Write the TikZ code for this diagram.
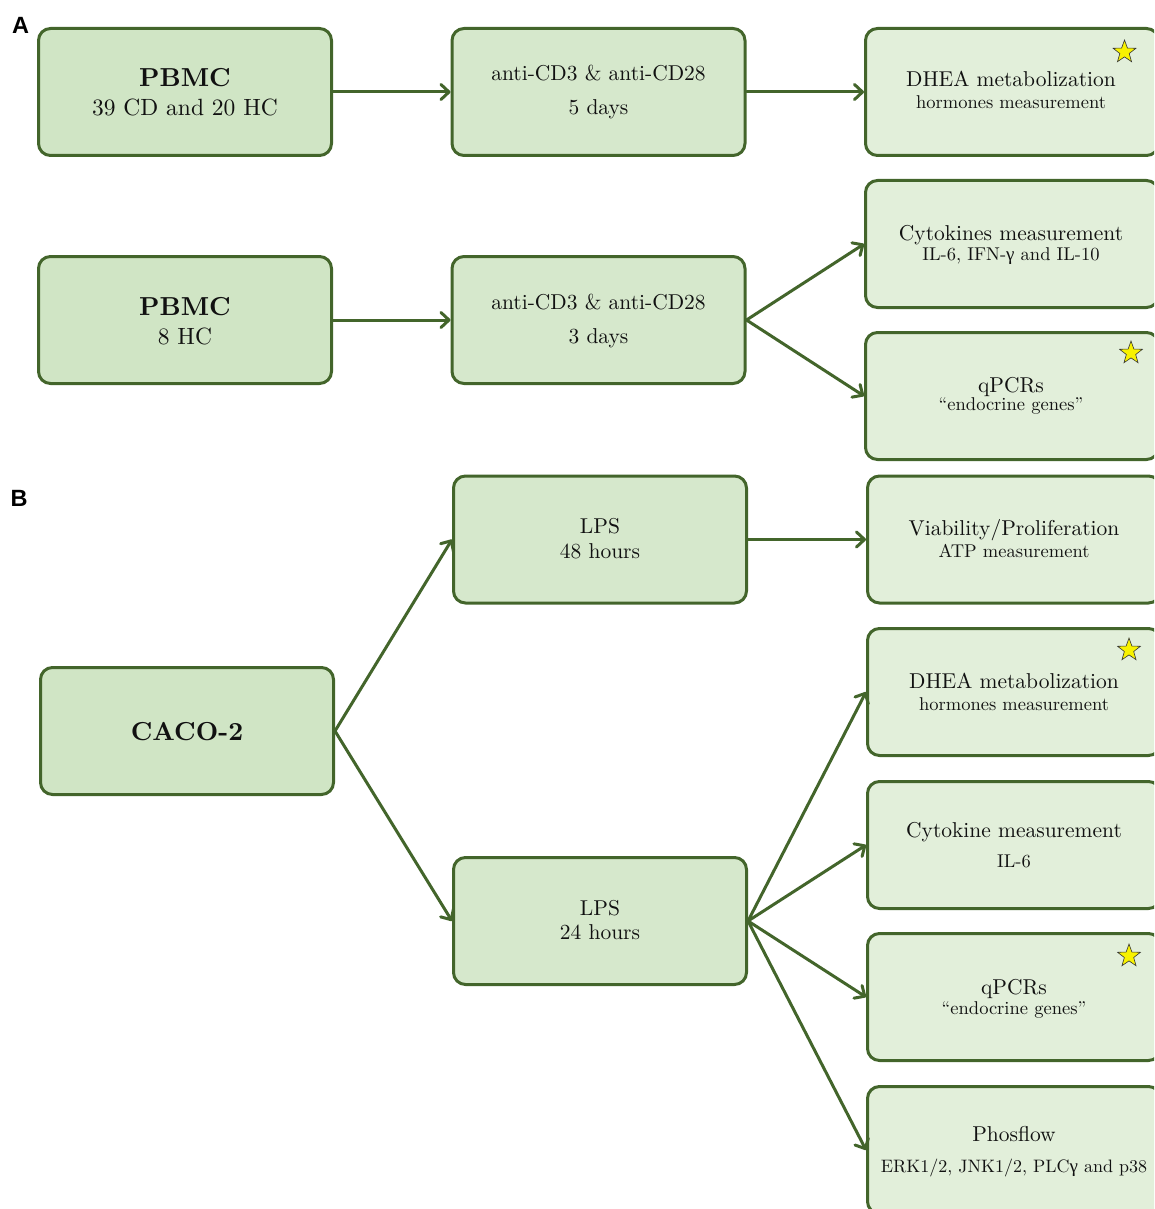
\documentclass[tikz,border=0pt]{standalone}
\usepackage{fontspec}
\setmainfont{lmroman10}[Extension=.otf, UprightFont=*-regular,
  BoldFont=*-bold, ItalicFont=*-italic, BoldItalicFont=*-bolditalic]
\newfontfamily\panelfont{Liberation Sans}
\newfontfamily\greekfont{Liberation Serif}
\usetikzlibrary{arrows.meta,shapes.geometric}

\definecolor{edge}{HTML}{43652B}
\definecolor{srcfill}{HTML}{D0E5C5}
\definecolor{midfill}{HTML}{D6E8CC}
\definecolor{outfill}{HTML}{E2EFDA}
\definecolor{ink}{HTML}{111111}
\definecolor{starfill}{HTML}{F8F200}

\newcommand\mainsz{\fontsize{21.5}{24}\selectfont}
\newcommand\srcsz{\fontsize{23.5}{26}\selectfont}
\newcommand\subsz{\fontsize{18.5}{21}\selectfont}
\newcommand\smallsz{\fontsize{18}{21}\selectfont}
\newcommand\bigsz{\fontsize{26}{30}\selectfont\bfseries}
\newcommand\gam{{\greekfont\fontsize{19}{21}\selectfont γ}}

\tikzset{
  box/.style={draw=edge, line width=3pt, rounded corners=12pt,
    minimum width=293pt, minimum height=127pt, inner sep=0pt},
  srcbox/.style={box, fill=srcfill},
  midbox/.style={box, fill=midfill},
  outbox/.style={box, fill=outfill},
  txt/.style={anchor=base, inner sep=0pt, text=ink},
  panel/.style={anchor=base, inner sep=0pt, text=black,
    font=\panelfont\fontsize{23.5}{26}\selectfont\bfseries},
  goldstar/.style={star, star points=5, star point ratio=2.45,
    minimum size=24pt, inner sep=0pt, fill=starfill, draw=black!80,
    line width=0.6pt},
  flow/.style={draw=edge, line width=3pt, line cap=round,
    -{Straight Barb[length=8pt,width=15pt,round]}},
}

\begin{document}
\begin{tikzpicture}[x=1pt, y=-1pt]
\useasboundingbox (0,0) rectangle (1154,1209);
\clip (0,0) rectangle (1154,1209);

% ---------- panel A ----------
\node[panel] (labA) at (20.5,33.5) {A};

\node[srcbox] (pbmcA) at (185,92) {};
\node[midbox] (stimA) at (598.5,92) {};
\node[outbox] (dheaA) at (1012,92) {};

\node[txt, font=\bigsz]  (pbmcAt) at (185,87)  {PBMC};
\node[txt, font=\srcsz]  (pbmcAs) at (185,116) {39 CD and 20 HC};
\node[txt, font=\mainsz] (stimAt) at (598.5,81) {anti-CD3 \& anti-CD28};
\node[txt, font=\mainsz] (stimAs) at (598.5,115) {5 days};
\node[txt, font=\mainsz] (dheaAt) at (1011,87) {DHEA metabolization};
\node[txt, font=\subsz]  (dheaAs) at (1011,109) {hormones measurement};
\node[goldstar] (starA1) at (1124.5,52) {};

\node[srcbox] (pbmcB) at (185,320) {};
\node[midbox] (stimB) at (598.5,320) {};
\node[outbox] (cytoA) at (1012,244) {};
\node[outbox] (qpcrA) at (1012,396) {};

\node[txt, font=\bigsz]  (pbmcBt) at (185,315) {PBMC};
\node[txt, font=\srcsz]  (pbmcBs) at (185,344) {8 HC};
\node[txt, font=\mainsz] (stimBt) at (598.5,309) {anti-CD3 \& anti-CD28};
\node[txt, font=\mainsz] (stimBs) at (598.5,343) {3 days};
\node[txt, font=\mainsz] (cytoAt) at (1011,240) {Cytokines measurement};
\node[txt, font=\subsz]  (cytoAs) at (1011,260) {IL-6, IFN-\gam{} and IL-10};
\node[txt, font=\mainsz] (qpcrAt) at (1011,392) {qPCRs};
\node[txt, font=\subsz]  (qpcrAs) at (1011,410) {“endocrine genes”};
\node[goldstar] (starA2) at (1131,353) {};

\draw[flow] (pbmcA.east) -- (stimA.west);
\draw[flow] (stimA.east) -- (dheaA.west);
\draw[flow] (pbmcB.east) -- (stimB.west);
\draw[flow] (stimB.east) -- (cytoA.west);
\draw[flow] (stimB.east) -- (qpcrA.west);

% ---------- panel B ----------
\node[panel] (labB) at (19,506) {B};

\node[srcbox] (caco) at (187,731) {};
\node[midbox] (lpsL) at (600,539.5) {};
\node[midbox] (lpsS) at (600,921) {};
\node[outbox] (via)  at (1014,539.5) {};
\node[outbox] (dheaB) at (1014,692) {};
\node[outbox] (cytoB) at (1014,845) {};
\node[outbox] (qpcrB) at (1014,997) {};
\node[outbox] (phos) at (1014,1150) {};

\node[txt, font=\bigsz]  (cacot) at (187,740) {CACO-2};
\node[txt, font=\mainsz] (lpsLt) at (600,533) {LPS};
\node[txt, font=\mainsz] (lpsLs) at (600,558) {48 hours};
\node[txt, font=\mainsz] (lpsSt) at (600,915) {LPS};
\node[txt, font=\mainsz] (lpsSs) at (600,939) {24 hours};
\node[txt, font=\mainsz] (viat)  at (1014,535) {Viability/Proliferation};
\node[txt, font=\subsz]  (vias)  at (1014,557) {ATP measurement};
\node[txt, font=\mainsz] (dheaBt) at (1014,688) {DHEA metabolization};
\node[txt, font=\subsz]  (dheaBs) at (1014,710) {hormones measurement};
\node[txt, font=\mainsz] (cytoBt) at (1014,837) {Cytokine measurement};
\node[txt, font=\subsz]  (cytoBs) at (1014,867) {IL-6};
\node[txt, font=\mainsz] (qpcrBt) at (1014,994) {qPCRs};
\node[txt, font=\subsz]  (qpcrBs) at (1014,1014) {“endocrine genes”};
\node[txt, font=\mainsz] (phost)  at (1014,1141) {Phosflow};
\node[txt, font=\smallsz] (phoss) at (1014,1172) {ERK1/2, JNK1/2, PLC\gam{} and p38};
\node[goldstar] (starB1) at (1129,650) {};
\node[goldstar] (starB2) at (1129,956) {};

\draw[flow] (caco.east) -- (lpsL.west);
\draw[flow] (caco.east) -- (lpsS.west);
\draw[flow] (lpsL.east) -- (via.west);
\draw[flow] (lpsS.east) -- (dheaB.west);
\draw[flow] (lpsS.east) -- (cytoB.west);
\draw[flow] (lpsS.east) -- (qpcrB.west);
\draw[flow] (lpsS.east) -- (phos.west);
\end{tikzpicture}
\end{document}
